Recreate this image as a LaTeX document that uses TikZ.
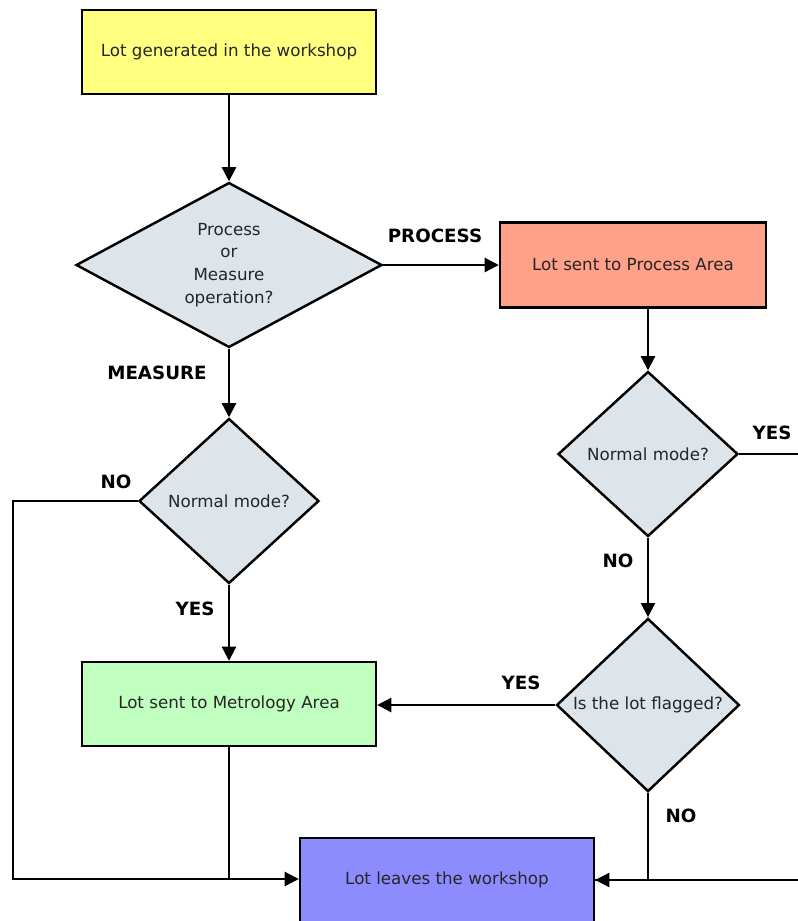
\documentclass[tikz,border=0pt]{standalone}
\usepackage{fontspec}
\setmainfont{DejaVu Sans}
\usepackage{xcolor}
\usetikzlibrary{positioning, calc, arrows.meta, shapes.geometric}

\definecolor{lotyellow}{HTML}{FFFF80}
\definecolor{procsalmon}{HTML}{FFA088}
\definecolor{metgreen}{HTML}{C0FFC0}
\definecolor{leaveblue}{HTML}{8C8CFF}
\definecolor{askgrey}{HTML}{DDE4EA}

\begin{document}
\begin{tikzpicture}[
  x=0.02cm, y=-0.02cm,
  font=\fontsize{9.5}{13}\selectfont,
  box/.style={draw=black, line width=1.4pt, minimum width=5.88cm,
              minimum height=1.68cm, text=black!85},
  ask/.style={diamond, draw=black, line width=1.4pt, fill=askgrey,
              inner sep=1pt, minimum width=3.6cm, minimum height=3.3cm,
              align=center, text=black!85},
  flow/.style={line width=1.2pt, -{Triangle[length=8pt,width=8pt]}},
  wire/.style={line width=1.2pt},
  lbl/.style={font=\fontsize{10.4}{12}\selectfont\bfseries},
]

% ---- 1. page frame (picture is cut at the right and bottom) ----
\useasboundingbox (0,0) rectangle (798,921);
\clip (0,0) rectangle (798,921);

% ---- 2. boxes and questions ----
\node[box, fill=lotyellow] (gen) at (229,52) {Lot generated in the workshop};
\node[ask, aspect=1.85, minimum width=6.12cm] (kind) at (229,265)
  {Process\\or\\Measure\\operation?};
\node[box, fill=procsalmon, minimum width=5.32cm, minimum height=1.7cm]
  (proc) at (633,265) {Lot sent to Process Area};
\node[ask] (modeL) at (229,501) {Normal mode?};
\node[ask] (modeR) at (648,454) {Normal mode?};
\node[ask, minimum width=3.66cm] (flag) at (648,705) {Is the lot flagged?};
\node[box, fill=metgreen] (metro) at (229,704) {Lot sent to Metrology Area};
\node[box, fill=leaveblue] (leave) at (447,880) {Lot leaves the workshop};

% ---- 3. rails that run round the outside ----
\coordinate (leftRail)  at (13,879);
\coordinate (rightRail) at (840,454);

% ---- 4. connectors ----
\draw[flow] (gen) -- (kind);
\draw[flow] (kind) -- (proc);
\draw[flow] (kind) -- (modeL);
\draw[flow] (proc.south -| modeR) -- (modeR);
\draw[flow] (modeR) -- (flag);
\draw[flow] (modeL) -- (metro);
\draw[flow] (flag.west) -- (flag.west -| metro.east);
\draw[flow] (modeL.west) -| (leftRail) -- (leftRail -| leave.west);
\draw[wire] (metro.south) -- (metro.south |- leftRail);
\draw[flow] (flag.south) |- (leave.east);
\draw[wire] (modeR.east) -- (rightRail) |- (leave.east);

% ---- 5. branch labels ----
\node[lbl] (lblProc) at (435,236) {PROCESS};
\node[lbl] (lblMeas) at (157,373) {MEASURE};
\node[lbl] (lblNoL)  at (116,482) {NO};
\node[lbl] (lblYesL) at (195,609) {YES};
\node[lbl] (lblYesR) at (772,433) {YES};
\node[lbl] (lblNoR)  at (618,561) {NO};
\node[lbl] (lblYesF) at (521,683) {YES};
\node[lbl] (lblNoF)  at (681,816) {NO};

\end{tikzpicture}
\end{document}
